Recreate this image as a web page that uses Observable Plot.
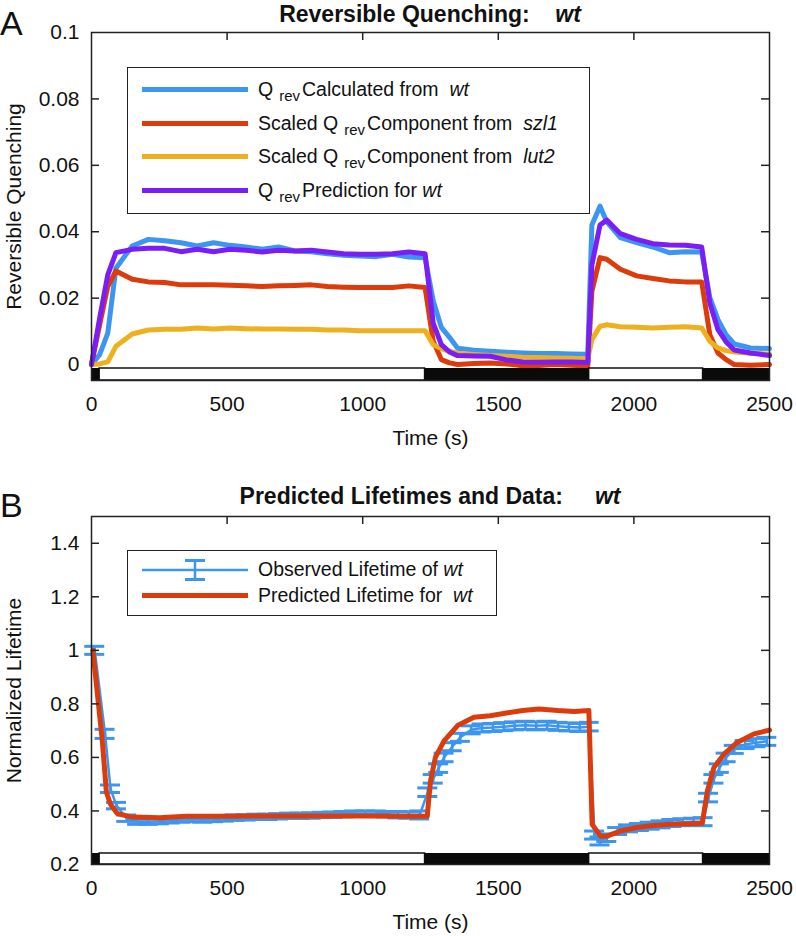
<!DOCTYPE html>
<html>
<head>
<meta charset="utf-8">
<script src="https://cdn.jsdelivr.net/npm/d3@7"></script>
<script src="https://cdn.jsdelivr.net/npm/@observablehq/plot@0.6"></script>
<style>
  body { margin: 0; background: #fff; }
  #wrap { position: relative; width: 796px; height: 936px; overflow: hidden;
          font-family: "Liberation Sans", Arial, Helvetica, sans-serif; color: #111; }
  .abs { position: absolute; }
  .title { font-weight: bold; font-size: 23px; line-height: 23px; white-space: pre;
           text-align: center; width: 600px; left: 130px; }
  .panel { font-size: 34px; line-height: 34px; left: 0px; }
  .legend { border: 1.5px solid #222; background: #fff; box-sizing: border-box; }
  .swatch { position: absolute; left: 14px; width: 106px; height: 5px; }
  .ltext { position: absolute; left: 130px; font-size: 19.5px; line-height: 22px; white-space: pre; }
  .sub { font-size: 15px; vertical-align: -5px; margin-left: 6px; margin-right: 2px; }
  i { font-style: italic; }
</style>
</head>
<body>
<div id="wrap">
  <div id="plotA" class="abs" style="left:0;top:0"></div>
  <div id="plotB" class="abs" style="left:0;top:460px"></div>

  <div class="abs panel" style="top:6px">A</div>
  <div class="abs title" style="top:3px">Reversible Quenching:    <i>wt</i></div>
  <div class="abs panel" style="top:488px">B</div>
  <div class="abs title" style="top:485px">Predicted Lifetimes and Data:     <i>wt</i></div>

  <div id="legendA" class="abs legend" style="left:127px;top:67px;width:463px;height:147px">
    <div class="swatch" style="top:19px;background:#3C96F0"></div>
    <div class="ltext" style="top:10px">Q<span class="sub">rev</span>Calculated from  <i>wt</i></div>
    <div class="swatch" style="top:53px;background:#DC3C0C"></div>
    <div class="ltext" style="top:44px">Scaled Q<span class="sub">rev</span>Component from  <i>szl1</i></div>
    <div class="swatch" style="top:86px;background:#EDB120"></div>
    <div class="ltext" style="top:77px">Scaled Q<span class="sub">rev</span>Component from  <i>lut2</i></div>
    <div class="swatch" style="top:120px;background:#7A1EF5"></div>
    <div class="ltext" style="top:111px">Q<span class="sub">rev</span>Prediction for <i>wt</i></div>
  </div>

  <div id="legendB" class="abs legend" style="left:127px;top:550px;width:370px;height:66px">
    <svg class="abs" style="left:14px;top:7px" width="108" height="24">
      <line x1="0" x2="106" y1="12" y2="12" stroke="#3C96F0" stroke-width="2.5"/>
      <line x1="53" x2="53" y1="2.5" y2="21.5" stroke="#3C96F0" stroke-width="2.5"/>
      <line x1="43" x2="63" y1="2.5" y2="2.5" stroke="#3C96F0" stroke-width="3"/>
      <line x1="43" x2="63" y1="21.5" y2="21.5" stroke="#3C96F0" stroke-width="3"/>
    </svg>
    <div class="ltext" style="top:7px">Observed Lifetime of <i>wt</i></div>
    <div class="swatch" style="top:42px;background:#DC3C0C"></div>
    <div class="ltext" style="top:33px">Predicted Lifetime for  <i>wt</i></div>
  </div>
</div>

<script>
// ---------- Data ----------
// Light/dark illumination periods (s)
const periodStart = [0, 30, 1230, 1835, 2255];
const periodEnd   = [30, 1230, 1835, 2255, 2500];
const periodDark  = [true, false, true, false, true];

// Panel A: reversible quenching time base (s)
const tA = [0, 30, 60, 90, 150, 210, 270, 330, 390, 450, 510, 570, 630, 690, 750,
            810, 870, 930, 990, 1050, 1110, 1170, 1230, 1260, 1290, 1320, 1350, 1410, 1470, 1530,
            1590, 1650, 1710, 1770, 1830, 1845, 1875, 1900, 1950, 2010, 2070, 2130, 2190, 2250, 2280,
            2310, 2340, 2370, 2430, 2500];
const qRevCalcWt = [0, 0.003, 0.0095, 0.029, 0.0357, 0.0377, 0.0373, 0.0367, 0.0357, 0.0367,
            0.0359, 0.0354, 0.0347, 0.0354, 0.0342, 0.034, 0.0334, 0.0329, 0.0327, 0.0325,
            0.0332, 0.0324, 0.0322, 0.0192, 0.0112, 0.0082, 0.0049, 0.0043, 0.004, 0.0037,
            0.0035, 0.0033, 0.0033, 0.0032, 0.0031, 0.042, 0.0477, 0.043, 0.0382, 0.0367,
            0.0354, 0.0337, 0.034, 0.0339, 0.0202, 0.0135, 0.009, 0.0062, 0.005, 0.0048];
const qRevSzl1 = [0, 0.012, 0.0235, 0.0282, 0.0257, 0.0249, 0.0247, 0.024, 0.024, 0.024,
            0.0239, 0.0237, 0.0235, 0.0237, 0.0238, 0.024, 0.0235, 0.0233, 0.0232, 0.0232,
            0.0232, 0.0237, 0.0232, 0.007, 0.0015, 0.0005, 0, 0.0003, 0.0005, 0.0002,
            -0.0004, -0.0003, 0, -0.0002, -0.0004, 0.022, 0.0322, 0.0317, 0.0287, 0.0267,
            0.0259, 0.0252, 0.0249, 0.0249, 0.009, 0.0035, 0.0015, 0, -0.0002, 0];
const qRevLut2 = [0, 0.0002, 0.0008, 0.0055, 0.0092, 0.0104, 0.0106, 0.0106, 0.011, 0.0107,
            0.011, 0.0108, 0.0107, 0.0107, 0.0106, 0.0106, 0.0104, 0.0104, 0.0102, 0.0102,
            0.0102, 0.0102, 0.0102, 0.006, 0.0048, 0.004, 0.0034, 0.003, 0.0027, 0.0025,
            0.0022, 0.0021, 0.002, 0.0019, 0.0017, 0.0075, 0.0115, 0.012, 0.0114, 0.0112,
            0.011, 0.0112, 0.0114, 0.011, 0.007, 0.005, 0.0042, 0.0038, 0.0034, 0.0032];
const qRevPredWt = [0, 0.014, 0.027, 0.0337, 0.0347, 0.035, 0.035, 0.034, 0.0347, 0.034,
            0.0347, 0.0344, 0.0339, 0.0344, 0.0342, 0.0344, 0.0339, 0.0334, 0.0332, 0.0332,
            0.0334, 0.0339, 0.0334, 0.0125, 0.006, 0.0038, 0.0027, 0.0026, 0.0025, 0.0014,
            0.0008, 0.0007, 0.0008, 0.0008, 0.0006, 0.03, 0.042, 0.0435, 0.0394, 0.0377,
            0.0364, 0.036, 0.0359, 0.0354, 0.0185, 0.0105, 0.0068, 0.0044, 0.0035, 0.0027];

// Panel B: observed lifetimes with error bars
const tObs = [12, 50, 70, 92, 130, 170, 210, 250, 290, 330, 370, 410, 450, 490, 530,
            570, 610, 650, 690, 730, 770, 810, 850, 890, 930, 970, 1010, 1050, 1090, 1130,
            1170, 1210, 1240, 1260, 1280, 1300, 1330, 1360, 1400, 1440, 1480, 1520, 1560, 1600, 1640,
            1680, 1720, 1760, 1800, 1835, 1855, 1875, 1900, 1940, 1980, 2020, 2060, 2100, 2140, 2180,
            2220, 2255, 2275, 2295, 2315, 2340, 2370, 2410, 2450, 2490];
const obsLifetime = [1.0, 0.688, 0.483, 0.42, 0.373, 0.36, 0.36, 0.362, 0.365, 0.368,
            0.37, 0.368, 0.37, 0.372, 0.375, 0.376, 0.378, 0.378, 0.38, 0.382,
            0.382, 0.383, 0.385, 0.386, 0.388, 0.39, 0.39, 0.39, 0.388, 0.386,
            0.385, 0.385, 0.47, 0.52, 0.56, 0.6, 0.64, 0.675, 0.703, 0.71,
            0.712, 0.715, 0.718, 0.72, 0.718, 0.72, 0.716, 0.714, 0.712, 0.715,
            0.31, 0.288, 0.3, 0.325, 0.335, 0.34, 0.345, 0.35, 0.355, 0.358,
            0.36, 0.36, 0.45, 0.52, 0.56, 0.6, 0.63, 0.648, 0.655, 0.66];
const obsError = [0.015, 0.017, 0.014, 0.012, 0.012, 0.01, 0.01, 0.01, 0.01, 0.01,
            0.01, 0.01, 0.01, 0.01, 0.01, 0.01, 0.01, 0.01, 0.01, 0.01,
            0.01, 0.01, 0.01, 0.01, 0.01, 0.01, 0.01, 0.01, 0.01, 0.012,
            0.012, 0.015, 0.016, 0.016, 0.016, 0.016, 0.015, 0.015, 0.015, 0.015,
            0.015, 0.015, 0.015, 0.015, 0.015, 0.015, 0.015, 0.015, 0.015, 0.016,
            0.015, 0.015, 0.014, 0.013, 0.013, 0.013, 0.013, 0.013, 0.013, 0.013,
            0.013, 0.015, 0.016, 0.016, 0.016, 0.016, 0.015, 0.015, 0.015, 0.015];

// Panel B: predicted lifetime
const tPred = [5, 40, 55, 70, 95, 150, 250, 350, 450, 600, 800, 1000, 1238, 1250, 1268,
            1300, 1350, 1410, 1470, 1530, 1590, 1650, 1720, 1780, 1834, 1846, 1877, 1900, 1950, 2010,
            2070, 2130, 2200, 2252, 2271, 2295, 2332, 2381, 2443, 2500];
const predLifetime = [1.0, 0.66, 0.47, 0.425, 0.39, 0.377, 0.375, 0.38, 0.38, 0.381,
            0.381, 0.381, 0.38, 0.512, 0.6, 0.662, 0.719, 0.75, 0.756, 0.766,
            0.775, 0.781, 0.775, 0.772, 0.775, 0.35, 0.306, 0.306, 0.325, 0.338,
            0.346, 0.35, 0.352, 0.354, 0.475, 0.562, 0.612, 0.656, 0.688, 0.702];

// Ticks
const xTicks = [0, 500, 1000, 1500, 2000, 2500];
const xInnerTicks = [500, 1000, 1500, 2000];
const yTicksA = [0, 0.02, 0.04, 0.06, 0.08, 0.1];
const yInnerA = [0.02, 0.04, 0.06, 0.08];
const yTicksB = [0.2, 0.4, 0.6, 0.8, 1, 1.2, 1.4];
const yInnerB = [0.4, 0.6, 0.8, 1, 1.2, 1.4];

// ---------- Build ----------
const C = { blue: "#3C96F0", red: "#DC3C0C", yellow: "#EDB120", purple: "#7A1EF5" };
const FONT = '"Liberation Sans", Arial, Helvetica, sans-serif';
const W = 796, ML = 91, MR = 27, FW = W - ML - MR, FH = 348;

const periods = periodStart.map((s, i) => ({ s, e: periodEnd[i], dark: periodDark[i] }));
const rowsA = tA.map((t, i) => ({ t, calc: qRevCalcWt[i], szl1: qRevSzl1[i], lut2: qRevLut2[i], pred: qRevPredWt[i] }));
const obsRows = tObs.map((t, i) => ({ t, v: obsLifetime[i], lo: obsLifetime[i] - obsError[i], hi: obsLifetime[i] + obsError[i] }));
const predRows = tPred.map((t, i) => ({ t, v: predLifetime[i] }));

function chrome(yTicks, yInner, yLabel, barH) {
  return [
    Plot.rect(periods.filter(d => !d.dark), { x1: "s", x2: "e", insetTop: FH - barH, fill: "white", stroke: "#111", strokeWidth: 1.5 }),
    Plot.rect(periods.filter(d => d.dark), { x1: "s", x2: "e", insetTop: FH - barH, fill: "#0a0a0a" }),
    Plot.frame({ stroke: "#222", strokeWidth: 1.5 }),
    Plot.tickX(xInnerTicks, { x: d => d, insetBottom: FH - 8, stroke: "#222", strokeWidth: 1.5 }),
    Plot.tickY(yInner, { y: d => d, insetRight: FW - 8, stroke: "#222", strokeWidth: 1.5 }),
    Plot.tickY(yInner, { y: d => d, insetLeft: FW - 8, stroke: "#222", strokeWidth: 1.5 }),
    Plot.axisX({ ticks: xTicks, tickSize: 0, tickPadding: 16, tickFormat: d => String(d), fontSize: 21, label: null }),
    Plot.axisY({ ticks: yTicks, tickSize: 0, tickPadding: 12, tickFormat: d => String(d), fontSize: 21, label: null }),
    Plot.text([yLabel], { text: d => d, frameAnchor: "left", dx: -77, rotate: -90, textAnchor: "middle", lineAnchor: "middle", fontSize: 21, fill: "#111" }),
    Plot.text(["Time (s)"], { text: d => d, frameAnchor: "bottom", dy: 58, textAnchor: "middle", lineAnchor: "middle", fontSize: 21, fill: "#111" })
  ];
}

const lineOpts = { x: "t", strokeWidth: 5, strokeLinejoin: "round", strokeLinecap: "round" };

const plotA = Plot.plot({
  width: W, height: 460, marginLeft: ML, marginRight: MR, marginTop: 32, marginBottom: 80,
  style: { background: "transparent", fontFamily: FONT, fontSize: "21px", color: "#111", overflow: "visible" },
  x: { domain: [0, 2500] },
  y: { domain: [-0.0048, 0.1] },
  marks: [
    Plot.line(rowsA, { ...lineOpts, y: "calc", stroke: C.blue }),
    Plot.line(rowsA, { ...lineOpts, y: "szl1", stroke: C.red }),
    Plot.line(rowsA, { ...lineOpts, y: "lut2", stroke: C.yellow }),
    Plot.line(rowsA, { ...lineOpts, y: "pred", stroke: C.purple }),
    ...chrome(yTicksA, yInnerA, "Reversible Quenching", 12)
  ]
});
document.getElementById("plotA").appendChild(plotA);

const plotB = Plot.plot({
  width: W, height: 476, marginLeft: ML, marginRight: MR, marginTop: 56, marginBottom: 72,
  style: { background: "transparent", fontFamily: FONT, fontSize: "21px", color: "#111", overflow: "visible" },
  x: { domain: [0, 2500] },
  y: { domain: [0.2, 1.5] },
  marks: [
    Plot.line(obsRows, { x: "t", y: "v", stroke: C.blue, strokeWidth: 2.5 }),
    Plot.ruleX(obsRows, { x: "t", y1: "lo", y2: "hi", stroke: C.blue, strokeWidth: 2.5 }),
    Plot.ruleY(obsRows, { y: "hi", x1: "t", x2: "t", insetLeft: -10, insetRight: -10, stroke: C.blue, strokeWidth: 3 }),
    Plot.ruleY(obsRows, { y: "lo", x1: "t", x2: "t", insetLeft: -10, insetRight: -10, stroke: C.blue, strokeWidth: 3 }),
    Plot.line(predRows, { x: "t", y: "v", stroke: C.red, strokeWidth: 5, strokeLinejoin: "round" }),
    ...chrome(yTicksB, yInnerB, "Normalized Lifetime", 11)
  ]
});
document.getElementById("plotB").appendChild(plotB);
</script>
</body>
</html>
